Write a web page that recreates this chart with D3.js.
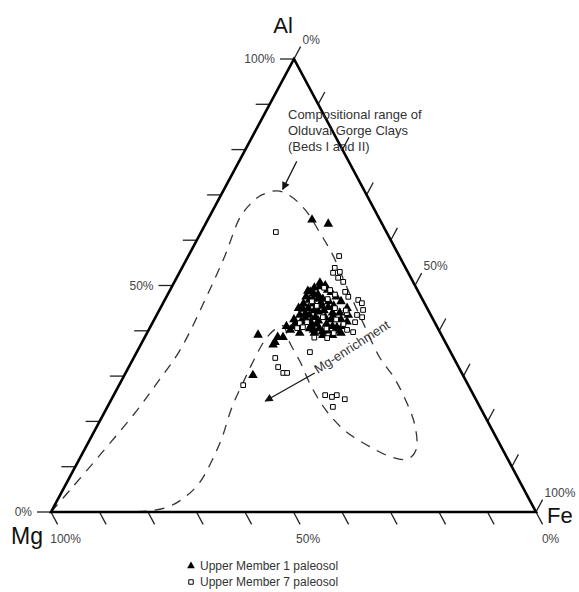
<!DOCTYPE html>
<html>
<head>
<meta charset="utf-8">
<script src="https://cdn.jsdelivr.net/npm/d3@7"></script>
<style>
  body { margin: 0; background: #fff; }
  svg { display: block; font-family: "Liberation Sans", Arial, Helvetica, sans-serif; }
</style>
</head>
<body>
<svg id="ternary" width="579" height="592"></svg>
<script>
// composition pairs are [Al %, Fe %], Mg = 100 - Al - Fe
var vertexNames = ['Al', 'Fe', 'Mg']
var ticks = [0, 10, 20, 30, 40, 50, 60, 70, 80, 90, 100]
var labeledTicks = [0, 50, 100]

var upperMember1 = [
  [64.5, 21.5], [63.6, 25.3], [50.6, 30.1], [49.5, 29.5], [50, 31.5], [49, 32.5],
  [48.6, 29.1], [48, 31], [47.5, 28.8], [47, 30.5], [47, 32.5], [46.5, 34],
  [46, 29], [46, 31], [45.5, 33], [45.5, 35.5], [45, 28.5], [45, 30.5],
  [44.5, 32], [44.5, 34], [44, 36], [44, 37.5], [43.5, 29.5], [43.5, 31.5],
  [43, 33], [43, 35], [42.5, 36.5], [42.5, 38.5], [42, 30.5], [42, 32.5],
  [41.5, 34], [41.5, 36], [41, 37.5], [41, 39.5], [40.5, 33], [40.5, 35],
  [40, 37], [40, 39], [39.5, 40], [39.5, 34.5], [39, 36.5], [39, 38.5],
  [48.5, 33.5], [47.5, 35], [46.5, 36.5], [45, 38.5], [43.5, 39.5], [42, 40],
  [40.2, 29.2], [38.6, 28.5], [38.6, 27.4], [37.5, 27.4], [36.9, 27.3],
  [39.1, 23.1], [30.2, 26.5], [41, 28], [42.5, 28.8], [41, 29.5], [39.5, 31.5],
  [49.8, 30.5], [48.2, 30], [47.2, 31.5], [46.2, 32.5], [45.2, 34.5], [44.2, 33],
  [43.2, 36.5], [42.2, 34], [41.2, 33], [40.2, 34], [39.8, 36], [40.8, 38.5],
  [43.8, 30.5], [44.8, 29.5], [46.8, 29.8], [48.8, 28.5], [41.8, 29.5], [42.8, 31]
]

var upperMember7 = [
  [61.8, 15.4], [56.5, 31.1], [53.9, 31.5], [53, 33], [52.8, 31.7], [51.7, 33.3],
  [50.8, 34.8], [46.8, 39.9], [46.1, 41], [44.6, 42], [43.5, 41.3], [43, 42.6],
  [43.9, 39], [41.9, 41.7], [39.7, 42.4], [40.2, 40.9], [38.4, 37.7], [35.3, 35.7],
  [41.7, 30.4], [40.6, 30.4], [41.9, 31.8], [40.8, 31.5], [34, 29.2], [32, 30.8],
  [30.7, 32.5], [30.7, 33.3], [28, 25.6], [25.8, 43.6], [25.4, 45.2], [25.8, 46],
  [24.9, 48.1], [23.2, 46.5], [49, 33], [48.6, 36.3], [47.5, 37.5], [45, 36],
  [44.5, 38.5], [42.5, 37.5], [41.5, 39.5], [40.5, 36.5], [47, 33.5], [45.5, 32],
  [43, 34.5], [39.5, 38.5], [38.5, 35], [46.5, 30.5], [49.5, 31.5], [48, 34.5]
]

// outline of the Olduvai Gorge clay field
var clayRange = [
  [0, 0], [4.9, 1.5], [12.6, 3.8], [22.5, 6.5], [28.5, 7.6], [35.8, 8.7],
  [46.8, 8.3], [56.7, 7.5], [65.1, 6.4], [68.4, 7.2], [70, 8.4], [70.9, 11.1],
  [69.8, 14.3], [66.7, 19], [61.6, 24.6], [56.7, 29.7], [49, 36.7], [41.9, 43.3],
  [34, 50.8], [30, 55.5], [25.6, 59.9], [19.2, 65.4], [13.7, 68.4], [11.7, 67.7],
  [12.1, 64.2], [14.8, 57.7], [17.9, 51.7], [22.5, 45.4], [27.8, 39.7], [33.1, 34.8],
  [37.7, 30.2], [41.1, 27.3], [40.2, 25.9], [38, 25.1], [34, 25], [28.5, 25.3],
  [23.2, 25.7], [16.6, 27], [11.3, 27.5], [6.6, 27.4], [3.3, 26], [0.9, 23.1],
  [0, 16.3], [0, 8], [0, 0]
]

var clayNote = ['Compositional range of', 'Olduvai Gorge Clays', '(Beds I and II)']
var clayNoteAt = [71, 12.2]     // arrow tip, top of clay field
var enrichFrom = [30.7, 39]     // arrow start
var enrichTo = [24.5, 31.9]     // arrow tip (towards Mg)
var legendItems = ['Upper Member 1 paleosol', 'Upper Member 7 paleosol']

var svg = d3.select('#ternary')

var yAl = d3.scaleLinear().domain([0, 100]).range([512, 59])
var xFe = d3.scaleLinear().domain([0, 100]).range([51, 536])
var xAl = d3.scaleLinear().domain([0, 100]).range([0, 243])
function pos(al, fe) {
  return [xFe(fe) + xAl(al), yAl(al)]
}

var defs = svg.append('defs')
defs.append('marker')
  .attr('id', 'head')
  .attr('viewBox', '0 0 10 10')
  .attr('refX', 9).attr('refY', 5)
  .attr('markerWidth', 11).attr('markerHeight', 8)
  .attr('markerUnits', 'userSpaceOnUse')
  .attr('orient', 'auto')
  .append('path')
  .attr('d', 'M0,0 L10,5 L0,10 Z')
  .attr('fill', '#111')

// clay range, dashed
svg.append('path')
  .attr('d', d3.line().curve(d3.curveCatmullRom.alpha(0.5))(clayRange.map(function(d) { return pos(d[0], d[1]) })))
  .attr('fill', 'none')
  .attr('stroke', '#333')
  .attr('stroke-width', 1.3)
  .attr('stroke-dasharray', '10,8')

// ticks
var tickLen = 14
var axisG = svg.append('g').attr('stroke', '#222').attr('stroke-width', 1.3)
var labelG = svg.append('g').attr('font-size', 12).attr('fill', '#444')

function unit(a, b) {
  var dx = b[0] - a[0], dy = b[1] - a[1], l = Math.sqrt(dx * dx + dy * dy)
  return [dx / l, dy / l]
}
var mg = pos(0, 0), fe = pos(0, 100), al = pos(100, 0)
var rightDir = unit(mg, al)
var bottomDir = unit(al, fe)

ticks.forEach(function(t) {
  // Al, left edge
  var b = pos(t, 0)
  axisG.append('line').attr('x1', b[0]).attr('y1', b[1]).attr('x2', b[0] - tickLen).attr('y2', b[1])
  if (labeledTicks.indexOf(t) >= 0) {
    labelG.append('text').attr('x', b[0] - tickLen - 5).attr('y', b[1] + 4)
      .attr('text-anchor', 'end').text(t + '%')
  }
  // Fe, right edge
  b = pos(100 - t, t)
  var e = [b[0] + rightDir[0] * tickLen, b[1] + rightDir[1] * tickLen]
  axisG.append('line').attr('x1', b[0]).attr('y1', b[1]).attr('x2', e[0]).attr('y2', e[1])
  if (labeledTicks.indexOf(t) >= 0) {
    labelG.append('text').attr('x', e[0] + 2).attr('y', e[1] - 3).text(t + '%')
  }
  // Mg, bottom edge
  b = pos(0, 100 - t)
  e = [b[0] + bottomDir[0] * tickLen, b[1] + bottomDir[1] * tickLen]
  axisG.append('line').attr('x1', b[0]).attr('y1', b[1]).attr('x2', e[0]).attr('y2', e[1])
  if (labeledTicks.indexOf(t) >= 0) {
    labelG.append('text').attr('x', e[0] + 8).attr('y', 543)
      .attr('text-anchor', 'middle').text(t + '%')
  }
})

// triangle frame
svg.append('path')
  .attr('d', d3.line()([mg, fe, al]) + 'Z')
  .attr('fill', 'none')
  .attr('stroke', '#000')
  .attr('stroke-width', 2.6)
  .attr('stroke-linejoin', 'miter')

// vertex labels
svg.append('text').attr('x', al[0] - 11).attr('y', 33).attr('text-anchor', 'middle')
  .attr('font-size', 22).attr('fill', '#111').text(vertexNames[0])
svg.append('text').attr('x', fe[0] + 11).attr('y', 523)
  .attr('font-size', 22).attr('fill', '#111').text(vertexNames[1])
svg.append('text').attr('x', 11).attr('y', 544)
  .attr('font-size', 23).attr('fill', '#111').text(vertexNames[2])

// data
var tri = d3.symbol().type(d3.symbolTriangle).size(40)
var sq = d3.symbol().type(d3.symbolSquare).size(22)

svg.append('g').selectAll('path')
  .data(upperMember1)
  .enter().append('path')
  .attr('d', tri)
  .attr('transform', function(d) { var p = pos(d[0], d[1]); return 'translate(' + p[0] + ',' + p[1] + ')' })
  .attr('fill', '#000')

svg.append('g').selectAll('path')
  .data(upperMember7)
  .enter().append('path')
  .attr('d', sq)
  .attr('transform', function(d) { var p = pos(d[0], d[1]); return 'translate(' + p[0] + ',' + p[1] + ')' })
  .attr('fill', '#fff')
  .attr('stroke', '#000')
  .attr('stroke-width', 1)

// annotations
var noteTip = pos(clayNoteAt[0], clayNoteAt[1])
svg.append('text')
  .attr('font-size', 13).attr('fill', '#333')
  .selectAll('tspan')
  .data(clayNote)
  .enter().append('tspan')
  .attr('x', 288)
  .attr('y', function(d, i) { return 119 + i * 16 })
  .text(function(d) { return d })
svg.append('line')
  .attr('x1', noteTip[0] + 14).attr('y1', noteTip[1] - 29)
  .attr('x2', noteTip[0]).attr('y2', noteTip[1] - 1)
  .attr('stroke', '#111').attr('stroke-width', 1.2)
  .attr('marker-end', 'url(#head)')

var ef = pos(enrichFrom[0], enrichFrom[1]), et = pos(enrichTo[0], enrichTo[1])
svg.append('line')
  .attr('x1', ef[0]).attr('y1', ef[1])
  .attr('x2', et[0]).attr('y2', et[1])
  .attr('stroke', '#111').attr('stroke-width', 1.2)
  .attr('marker-end', 'url(#head)')
var ang = Math.atan2(ef[1] - et[1], ef[0] - et[0]) * 180 / Math.PI - 3
svg.append('text')
  .attr('transform', 'translate(' + (ef[0] + 3) + ',' + (ef[1] + 1) + ') rotate(' + ang + ')')
  .attr('font-size', 13).attr('fill', '#333')
  .text('Mg-enrichment')

// legend
var legend = svg.append('g').attr('font-size', 12).attr('fill', '#333')
legendItems.forEach(function(name, i) {
  var y = 570 + i * 16
  legend.append('path')
    .attr('d', i === 0 ? d3.symbol().type(d3.symbolTriangle).size(26)() : d3.symbol().type(d3.symbolSquare).size(20)())
    .attr('transform', 'translate(191,' + (y - 4) + ')')
    .attr('fill', i === 0 ? '#000' : '#fff')
    .attr('stroke', i === 0 ? 'none' : '#000')
  legend.append('text').attr('x', 200).attr('y', y).text(name)
})
</script>
</body>
</html>
